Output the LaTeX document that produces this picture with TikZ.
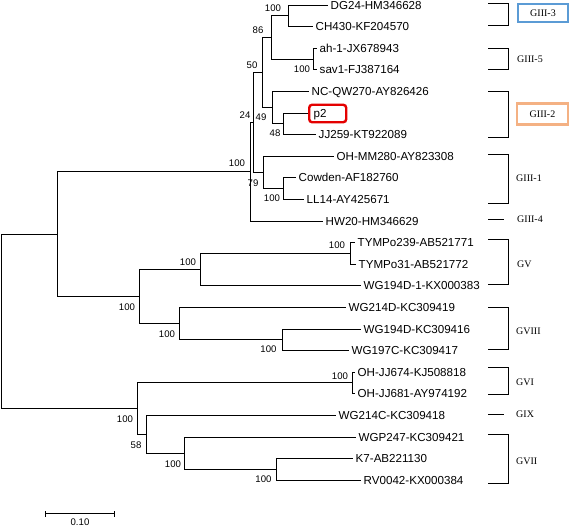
\documentclass[tikz,border=0pt]{standalone}
\usepackage{fontspec}
\setmainfont{Liberation Sans}
\newfontfamily\serifclade{Liberation Serif}
\definecolor{boxblue}{RGB}{91,155,213}
\definecolor{boxorange}{RGB}{244,177,131}
\definecolor{boxred}{RGB}{228,0,0}
\begin{document}
\begin{tikzpicture}[x=1pt,y=-1pt,
  br/.style={line width=1.5pt},
  leaf/.style={anchor=west, inner xsep=3pt, inner ysep=0pt, text height=8.3pt, text depth=0pt, font=\fontsize{11.6}{13}\selectfont},
  bs/.style={inner sep=0pt, text height=6.9pt, text depth=0pt, font=\fontsize{9.6}{11}\selectfont},
  cl/.style={anchor=west, inner sep=0pt, text height=6.6pt, text depth=0pt, font=\serifclade\fontsize{10}{12}\selectfont},
  clbox/.style={minimum width=50pt, minimum height=18pt, inner sep=0pt, line width=2.4pt, text height=6.6pt, text depth=0pt, font=\serifclade\fontsize{10}{12}\selectfont}]
\useasboundingbox (0,0) rectangle (569,527);

% leaves
\node[leaf] (l1) at (327.5,5.5) {DG24-HM346628};
\node[leaf] (l2) at (312.5,26.5) {CH430-KF204570};
\node[leaf] (l3) at (316.5,48.5) {ah-1-JX678943};
\node[leaf] (l4) at (316.5,69.5) {sav1-FJ387164};
\node[leaf] (l5) at (308.5,91.5) {NC-QW270-AY826426};
\node[leaf, draw=boxred, line width=2.4pt, rounded corners=3pt, minimum height=17.5pt, text width=28pt, align=left, inner xsep=4.5pt] (l6) at (308,113.5) {p2};
\node[leaf] (l7) at (315.5,134.5) {JJ259-KT922089};
\node[leaf] (l8) at (333.5,156.5) {OH-MM280-AY823308};
\node[leaf] (l9) at (295.5,177.5) {Cowden-AF182760};
\node[leaf] (l10) at (303.5,199.5) {LL14-AY425671};
\node[leaf] (l11) at (322.5,221.5) {HW20-HM346629};
\node[leaf] (l12) at (354.5,242.5) {TYMPo239-AB521771};
\node[leaf] (l13) at (355.5,264.5) {TYMPo31-AB521772};
\node[leaf] (l14) at (360.5,285.5) {WG194D-1-KX000383};
\node[leaf] (l15) at (345.5,307.5) {WG214D-KC309419};
\node[leaf] (l16) at (360.5,329.5) {WG194D-KC309416};
\node[leaf] (l17) at (348.5,350.5) {WG197C-KC309417};
\node[leaf] (l18) at (354.5,372.5) {OH-JJ674-KJ508818};
\node[leaf] (l19) at (354.5,393.5) {OH-JJ681-AY974192};
\node[leaf] (l20) at (335.5,415.5) {WG214C-KC309418};
\node[leaf] (l21) at (355.5,437.5) {WGP247-KC309421};
\node[leaf] (l22) at (352.5,458.5) {K7-AB221130};
\node[leaf] (l23) at (360.5,480.5) {RV0042-KX000384};

% internal nodes
\coordinate (nDG) at (288.5,15.5);
\coordinate (nAH) at (313.5,59.5);
\coordinate (n86) at (271.5,37.5);
\coordinate (nP2) at (283.5,123.5);
\coordinate (n49) at (272.5,107.5);
\coordinate (n50) at (262.5,72.5);
\coordinate (nCow) at (283.5,188.5);
\coordinate (n79) at (263.5,172.5);
\coordinate (n24) at (253.5,122.5);
\coordinate (nG3) at (250.5,171.5);
\coordinate (nTY) at (350.5,253.5);
\coordinate (nGV) at (200.5,269.5);
\coordinate (nWG) at (282.5,339.5);
\coordinate (nG8) at (179.5,323.5);
\coordinate (nGV8) at (139.5,296.5);
\coordinate (nUp) at (57.5,234.5);
\coordinate (nGVI) at (352.5,382.5);
\coordinate (nKR) at (276.5,469.5);
\coordinate (nG7) at (184.5,453.5);
\coordinate (n58) at (146.5,434.5);
\coordinate (nLow) at (137.5,408.5);
\coordinate (root) at (1.5,321.5);

% branches
\draw[br] (nDG) |- (l1.west);
\draw[br] (nDG) |- (l2.west);
\draw[br] (nAH) |- (l3.west);
\draw[br] (nAH) |- (l4.west);
\draw[br] (n86) |- (nDG);
\draw[br] (n86) |- (nAH);
\draw[br] (nP2) |- (l6.west);
\draw[br] (nP2) |- (l7.west);
\draw[br] (n49) |- (l5.west);
\draw[br] (n49) |- (nP2);
\draw[br] (n50) |- (n86);
\draw[br] (n50) |- (n49);
\draw[br] (nCow) |- (l9.west);
\draw[br] (nCow) |- (l10.west);
\draw[br] (n79) |- (l8.west);
\draw[br] (n79) |- (nCow);
\draw[br] (n24) |- (n50);
\draw[br] (n24) |- (n79);
\draw[br] (nG3) |- (n24);
\draw[br] (nG3) |- (l11.west);
\draw[br] (nTY) |- (l12.west);
\draw[br] (nTY) |- (l13.west);
\draw[br] (nGV) |- (nTY);
\draw[br] (nGV) |- (l14.west);
\draw[br] (nWG) |- (l16.west);
\draw[br] (nWG) |- (l17.west);
\draw[br] (nG8) |- (l15.west);
\draw[br] (nG8) |- (nWG);
\draw[br] (nGV8) |- (nGV);
\draw[br] (nGV8) |- (nG8);
\draw[br] (nUp) |- (nG3);
\draw[br] (nUp) |- (nGV8);
\draw[br] (nGVI) |- (l18.west);
\draw[br] (nGVI) |- (l19.west);
\draw[br] (nKR) |- (l22.west);
\draw[br] (nKR) |- (l23.west);
\draw[br] (nG7) |- (l21.west);
\draw[br] (nG7) |- (nKR);
\draw[br] (n58) |- (l20.west);
\draw[br] (n58) |- (nG7);
\draw[br] (nLow) |- (nGVI);
\draw[br] (nLow) |- (n58);
\draw[br] (root) |- (nUp);
\draw[br] (root) |- (nLow);

% bootstrap values
\node[bs] (b1) at (273,8.5) {100};
\node[bs] (b2) at (258,30) {86};
\node[bs] (b3) at (302,69.5) {100};
\node[bs] (b4) at (252,65) {50};
\node[bs] (b5) at (261,117) {49};
\node[bs] (b6) at (275,133) {48};
\node[bs] (b7) at (245,115.5) {24};
\node[bs] (b8) at (237,163.5) {100};
\node[bs] (b9) at (253,183) {79};
\node[bs] (b10) at (272,198.5) {100};
\node[bs] (b11) at (337,245) {100};
\node[bs] (b12) at (188,262) {100};
\node[bs] (b13) at (127,307.5) {100};
\node[bs] (b14) at (167,334) {100};
\node[bs] (b15) at (268.5,349.5) {100};
\node[bs] (b16) at (340,376) {100};
\node[bs] (b17) at (125,419.5) {100};
\node[bs] (b18) at (136,445) {58};
\node[bs] (b19) at (173,464) {100};
\node[bs] (b20) at (263.5,479.5) {100};

% clade brackets
\draw[br] (488,3.5) -- (508.5,3.5) -- (508.5,25.5) -- (488,25.5);
\draw[br] (488,48.5) -- (508.5,48.5) -- (508.5,69.5) -- (488,69.5);
\draw[br] (488,91.5) -- (508.5,91.5) -- (508.5,137.5) -- (488,137.5);
\draw[br] (488,154.5) -- (508.5,154.5) -- (508.5,203.5) -- (488,203.5);
\draw[br] (488,219.5) -- (504,219.5);
\draw[br] (488,239.5) -- (508.5,239.5) -- (508.5,284.5) -- (488,284.5);
\draw[br] (488,307.5) -- (508.5,307.5) -- (508.5,349.5) -- (488,349.5);
\draw[br] (488,367.5) -- (508.5,367.5) -- (508.5,394.5) -- (488,394.5);
\draw[br] (488,414.5) -- (504,414.5);
\draw[br] (488,434.5) -- (508.5,434.5) -- (508.5,483.5) -- (488,483.5);

% clade labels
\node[clbox, draw=boxblue] (c1) at (543,13) {GIII-3};
\node[cl] (c2) at (517,59) {GIII-5};
\node[clbox, draw=boxorange, minimum width=51pt, minimum height=21pt] (c3) at (542.5,114) {GIII-2};
\node[cl] (c4) at (516,178) {GIII-1};
\node[cl] (c5) at (517,219.5) {GIII-4};
\node[cl] (c6) at (517,264) {GV};
\node[cl] (c7) at (516,331) {GVIII};
\node[cl] (c8) at (516,382) {GVI};
\node[cl] (c9) at (516,414.5) {GIX};
\node[cl] (c10) at (516,461) {GVII};

% scale bar
\coordinate (s1) at (45.5,513.5);
\coordinate (s2) at (114.5,513.5);
\draw[br] (s1) -- (s2);
\draw[br] ([yshift=-3pt]s1) -- ([yshift=3pt]s1);
\draw[br] ([yshift=-3pt]s2) -- ([yshift=3pt]s2);
\node[bs] (sl) at (80,522) {0.10};
\end{tikzpicture}
\end{document}
